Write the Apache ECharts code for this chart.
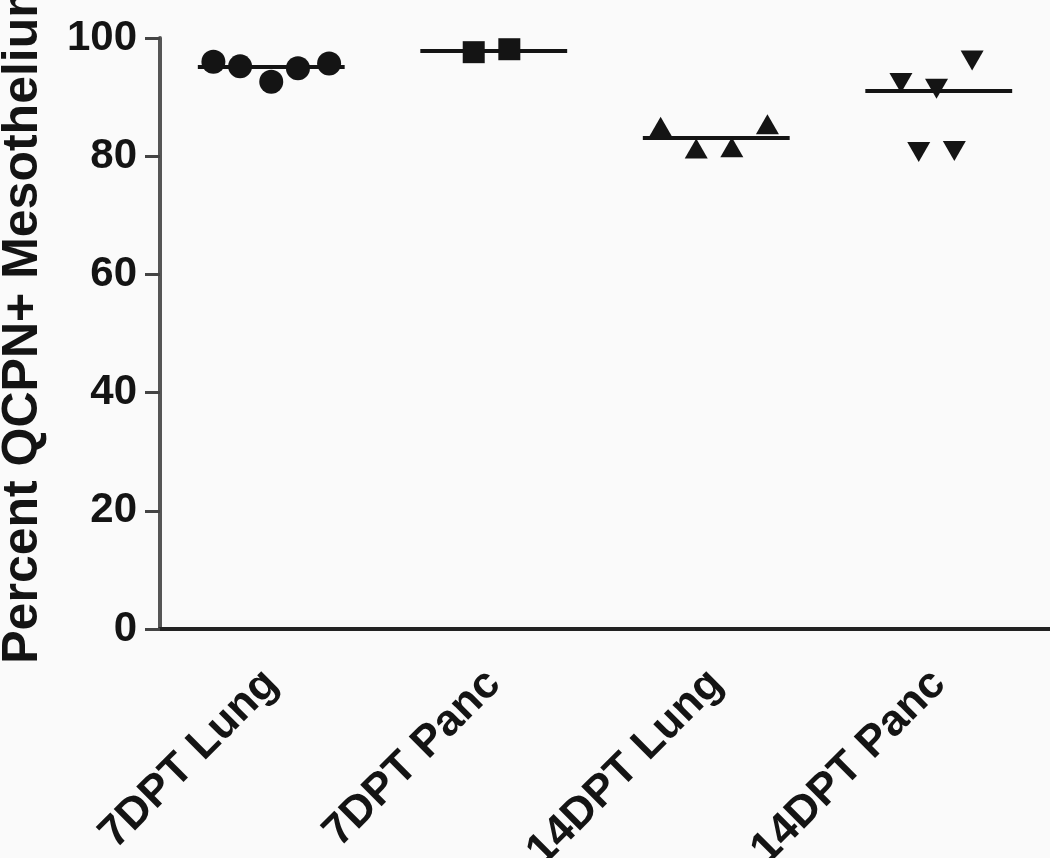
<!DOCTYPE html>
<html>
<head>
<meta charset="utf-8">
<script src="https://cdn.jsdelivr.net/npm/echarts@6/dist/echarts.min.js"></script>
<style>
  html, body { margin: 0; padding: 0; background: #fafafa; }
  #chart { width: 1050px; height: 858px; }
</style>
</head>
<body>
<div id="chart"></div>
<script>
const categories = ["7DPT Lung", "7DPT Panc", "14DPT Lung", "14DPT Panc"];

// jitter offsets (fraction of a category) and values per group
const lung7Offsets = [-0.26, -0.14, 0.0, 0.12, 0.26];
const lung7Values = [96.0, 95.2, 92.6, 94.9, 95.7];
const panc7Offsets = [-0.09, 0.07];
const panc7Values = [97.6, 98.1];
const lung14Offsets = [-0.25, -0.09, 0.07, 0.23];
const lung14Values = [85.0, 81.3, 81.5, 85.4];
const panc14Offsets = [-0.17, -0.01, 0.15, -0.09, 0.07];
const panc14Values = [92.4, 91.4, 96.2, 80.7, 80.9];

const medians = [95.2, 97.85, 83.2, 91.1];
const medianHalfWidth = 0.33;

const font = "Liberation Sans, Arial, Helvetica, sans-serif";
const ink = "#141414";

const chart = echarts.init(document.getElementById("chart"));

function groupSeries(index, offsets, values, symbol, symbolSize, symbolRotate) {
  return {
    type: "scatter",
    xAxisIndex: 1,
    symbol,
    symbolSize,
    symbolRotate: symbolRotate || 0,
    itemStyle: { color: ink, opacity: 1 },
    data: values.map((v, k) => [index + offsets[k], v]),
    z: 3,
    markLine: {
      silent: true,
      symbol: "none",
      label: { show: false },
      lineStyle: { color: ink, width: 4, type: "solid", opacity: 1 },
      data: [[
        { coord: [index - medianHalfWidth, medians[index]] },
        { coord: [index + medianHalfWidth, medians[index]] },
      ]],
      z: 2,
    },
  };
}

chart.setOption({
  backgroundColor: "#fafafa",
  animation: false,
  grid: { left: 160, right: 0, top: 38, bottom: 229, outerBoundsMode: "none" },
  xAxis: [
    {
      type: "category",
      data: categories,
      boundaryGap: true,
      axisLine: { lineStyle: { color: "#222", width: 4 } },
      axisTick: { alignWithLabel: true, length: 15, lineStyle: { color: "#333", width: 3 } },
      axisLabel: {
        interval: 0,
        rotate: 45,
        margin: 48,
        color: ink,
        fontFamily: font,
        fontWeight: "bold",
        fontSize: 44,
      },
      splitLine: { show: false },
    },
    {
      type: "value",
      min: -0.5,
      max: 3.5,
      show: false,
    },
  ],
  yAxis: {
    type: "value",
    min: 0,
    max: 100,
    interval: 20,
    name: "Percent QCPN+ Mesothelium",
    nameLocation: "middle",
    nameRotate: 90,
    nameGap: 112,
    nameTextStyle: {
      color: ink,
      fontFamily: font,
      fontWeight: "bold",
      fontSize: 50,
      padding: [0, 0, 0, 30],
    },
    axisLine: { show: true, onZero: false, lineStyle: { color: "#555", width: 4 } },
    axisTick: { show: true, length: 15, lineStyle: { color: "#444", width: 3 } },
    axisLabel: { margin: 23, color: ink, fontFamily: font, fontWeight: "bold", fontSize: 42 },
    splitLine: { show: false },
  },
  series: [
    groupSeries(0, lung7Offsets, lung7Values, "circle", 24),
    groupSeries(1, panc7Offsets, panc7Values, "rect", 22),
    groupSeries(2, lung14Offsets, lung14Values, "triangle", [23, 20]),
    groupSeries(3, panc14Offsets, panc14Values, "triangle", [23, 20], 180),
  ],
});
</script>
</body>
</html>
